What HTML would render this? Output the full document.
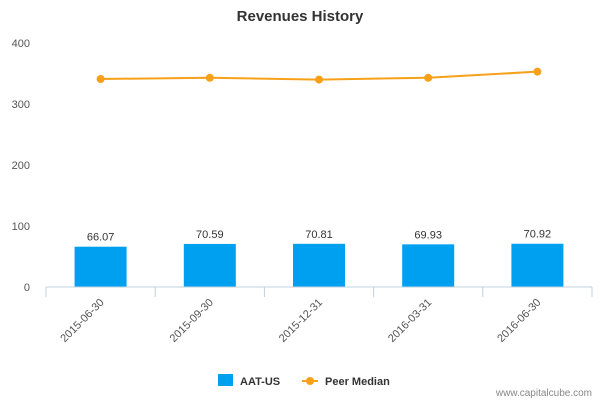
<!DOCTYPE html>
<html><head><meta charset="utf-8"><style>
body{margin:0;background:#fff;font-family:"Liberation Sans",sans-serif}
</style></head><body>
<svg id="chart" width="600" height="400" xmlns="http://www.w3.org/2000/svg" font-family="Liberation Sans, sans-serif">
<text x="300" y="21" text-anchor="middle" font-size="15" font-weight="bold" fill="#333">Revenues History</text>
<g id="grid"></g><g id="bars"></g><g id="line"></g><g id="xaxis"></g>
<g>
<rect x="218" y="374" width="15" height="12" fill="#00a0f0"/>
<text x="240" y="385" font-size="11" font-weight="bold" fill="#333">AAT-US</text>
<line x1="302" y1="381" x2="318" y2="381" stroke="#f7a11a" stroke-width="2"/>
<circle cx="310" cy="381" r="4" fill="#f7a11a"/>
<text x="325" y="385" font-size="11" font-weight="bold" fill="#333">Peer Median</text>
</g>
<text x="592" y="396" text-anchor="end" font-size="10" fill="#888">www.capitalcube.com</text>
</svg>
<script>
const categories=["2015-06-30","2015-09-30","2015-12-31","2016-03-31","2016-06-30"];
const revenues=[66.07,70.59,70.81,69.93,70.92];
const peerMedian=[341,343,340,343,353];
const yTicks=[0,100,200,300,400];
const NS="http://www.w3.org/2000/svg";
const x0=46,x1=592,yBase=287,yTop=43,yMax=400;
const bw=(x1-x0)/categories.length;
const y=v=>yBase-(v/yMax)*(yBase-yTop);
const xc=i=>x0+bw*(i+0.5);
function mk(tag,attrs,parent,text){const e=document.createElementNS(NS,tag);for(const k in attrs)e.setAttribute(k,attrs[k]);if(text!==undefined)e.textContent=text;document.getElementById(parent).appendChild(e);return e;}
yTicks.forEach(t=>{
 const e=mk("text",{x:30,y:y(t)+4,"text-anchor":"end","font-size":11,fill:"#555"},"grid",t);
 
 
});
const ax=mk("line",{x1:x0,y1:yBase,x2:x1,y2:yBase,stroke:"#c0d0e0"},"xaxis");


for(let i=0;i<=categories.length;i++){const tx=x0+bw*i;mk("line",{x1:tx,y1:yBase,x2:tx,y2:yBase+10,stroke:"#c0d0e0"},"xaxis");}
categories.forEach((c,i)=>{
 const r=mk("rect",{x:xc(i)-26,y:y(revenues[i]),width:52,height:yBase-y(revenues[i]),fill:"#00a0f0"},"bars");
 
 
 const l=mk("text",{x:xc(i),y:y(revenues[i])-6,"text-anchor":"middle","font-size":11,fill:"#333"},"bars",revenues[i].toFixed(2));
 
 
 const tl=mk("text",{x:xc(i)+4,y:yBase+16,"text-anchor":"end","font-size":11,fill:"#555",transform:`rotate(-45 ${xc(i)+4} ${yBase+16})`},"xaxis",c);
 
 
});
let d="";
peerMedian.forEach((v,i)=>{d+=(i?"L":"M")+xc(i)+" "+y(v);});
const p=mk("path",{d:d,fill:"none",stroke:"#f7a11a","stroke-width":2},"line");


peerMedian.forEach((v,i)=>{
 const c=mk("circle",{cx:xc(i),cy:y(v),r:4,fill:"#f7a11a"},"line");
 
 
});
</script>
</body></html>
